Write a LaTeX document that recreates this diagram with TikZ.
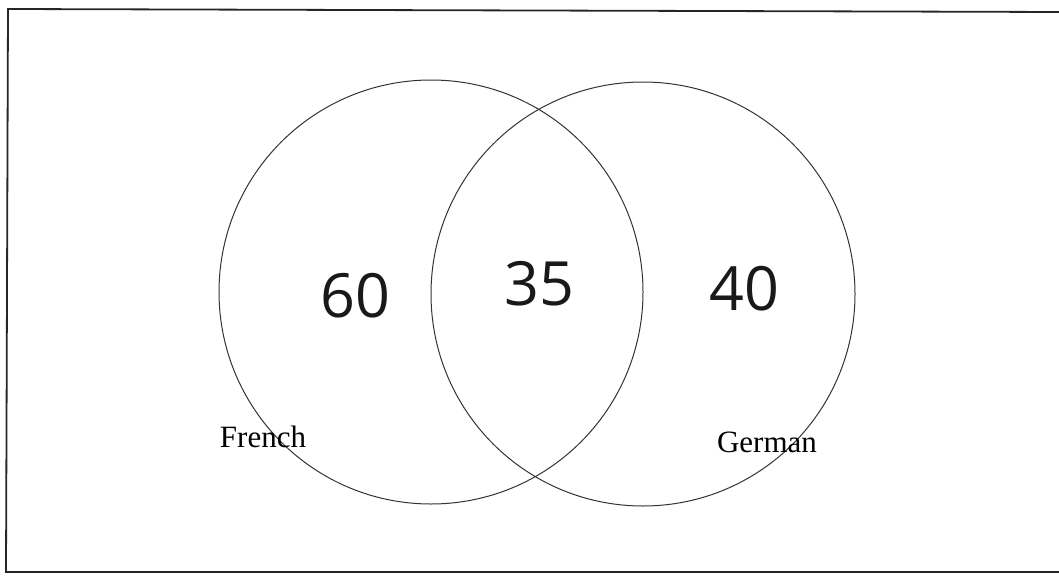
\documentclass[tikz,border=0pt]{standalone}
\usepackage{fontspec}
\setmainfont{Liberation Serif}
\newfontfamily\handfont{Open Sans}
\begin{document}
\begin{tikzpicture}[x=1pt,y=-1pt,
  frameline/.style={line width=1.8pt,draw=black!85},
  setcircle/.style={circle,draw=black!80,line width=1pt,minimum size=424pt,inner sep=0pt},
  setlabel/.style={font=\fontsize{31}{36}\selectfont,anchor=base,inner sep=0pt},
  countlabel/.style={font=\handfont\fontsize{61}{66}\selectfont,anchor=base,inner sep=0pt,text=black!90}]
\useasboundingbox (0,0) rectangle (1059,578);
\coordinate (tl) at (8,9);
\coordinate (tr) at (1062,12);
\coordinate (bl) at (6,572);
\coordinate (br) at (1062,572);
\draw[frameline] (tr) -- (tl) -- (bl) -- (br);
\node[setcircle] (french) at (431,292) {};
\node[setcircle] (german) at (643,294) {};
\node[setlabel] (frenchlabel) at (263,447) {French};
\node[setlabel] (germanlabel) at (767,452) {German};
\node[countlabel] (sixty) at (355,317) {60};
\node[countlabel] (thirtyfive) at (539,305) {35};
\node[countlabel] (forty) at (744,310) {40};
\end{tikzpicture}
\end{document}
